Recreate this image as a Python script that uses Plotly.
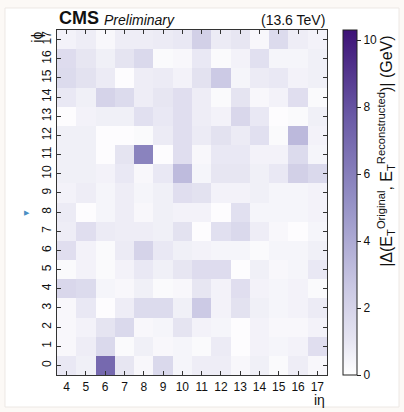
import plotly.graph_objects as go

# iη (columns) and iφ (rows)
ieta = list(range(4, 18))
iphi = list(range(0, 18))
xtick_labels = [str(v) for v in ieta]
ytick_labels = [str(v) for v in iphi]
cbar_ticks = [0, 2, 4, 6, 8, 10]

# |Δ(E_T)| values in GeV, one list per iφ row, ordered by iη = 4..17
row_phi0 = [0.9, 0.6, 7.0, 1.0, 0.3, 1.7, 0.4, 0.7, 0.7, 0.3, 0.6, 0.2, 0.7, 0.3]
row_phi1 = [0.3, 0.7, 1.7, 0.2, 0.6, 0.3, 0.4, 0.2, 0.8, 0.1, 0.5, 0.4, 0.5, 1.4]
row_phi2 = [0.3, 0.5, 1.1, 1.7, 0.3, 0.4, 1.1, 0.5, 0.4, 0.1, 0.5, 0.3, 0.3, 0.5]
row_phi3 = [0.3, 0.9, 0.1, 0.7, 1.6, 1.6, 0.6, 2.5, 0.5, 1.2, 0.6, 0.4, 0.5, 0.8]
row_phi4 = [1.8, 1.6, 0.4, 0.3, 0.6, 0.2, 0.3, 1.0, 0.5, 1.4, 0.5, 0.4, 0.5, 0.2]
row_phi5 = [0.2, 0.5, 0.2, 0.5, 0.9, 0.6, 1.0, 1.5, 1.5, 0.1, 0.6, 0.3, 0.4, 0.9]
row_phi6 = [1.4, 0.5, 0.2, 0.8, 2.0, 0.9, 0.6, 0.5, 0.4, 0.4, 0.2, 0.4, 0.4, 0.6]
row_phi7 = [0.7, 1.4, 0.8, 0.7, 0.7, 0.6, 1.2, 0.1, 1.3, 1.7, 0.7, 0.3, 0.1, 0.4]
row_phi8 = [0.8, 0.1, 0.4, 0.7, 0.3, 0.6, 0.5, 0.5, 0.1, 1.3, 0.4, 0.4, 0.4, 0.5]
row_phi9 = [0.5, 0.7, 0.4, 0.7, 0.4, 0.6, 1.4, 1.2, 0.5, 0.5, 0.6, 0.4, 0.4, 0.5]
row_phi10 = [0.6, 0.6, 0.5, 0.9, 0.3, 0.9, 3.2, 0.4, 1.0, 1.0, 0.6, 0.9, 2.2, 1.7]
row_phi11 = [0.6, 0.6, 0.1, 1.1, 5.8, 0.1, 1.4, 0.3, 0.9, 0.9, 0.5, 0.5, 1.6, 0.4]
row_phi12 = [0.6, 0.6, 0.1, 0.1, 0.2, 0.8, 1.4, 0.8, 1.2, 0.8, 1.3, 0.2, 3.3, 0.5]
row_phi13 = [0.1, 0.5, 0.6, 0.6, 1.3, 0.9, 1.4, 0.7, 0.5, 1.8, 0.9, 0.1, 0.2, 0.6]
row_phi14 = [0.9, 0.6, 2.0, 1.6, 0.7, 1.0, 1.4, 0.7, 0.2, 1.1, 0.3, 0.5, 1.4, 0.2]
row_phi15 = [1.6, 1.2, 0.8, 0.1, 0.7, 0.8, 0.5, 1.2, 2.5, 0.4, 0.8, 0.9, 0.5, 0.6]
row_phi16 = [1.5, 1.0, 0.6, 1.1, 1.7, 0.2, 0.3, 0.9, 0.2, 0.5, 1.3, 0.4, 0.4, 0.6]
row_phi17 = [0.5, 0.7, 0.3, 0.7, 0.7, 0.8, 0.9, 2.2, 0.8, 1.0, 0.3, 1.6, 0.7, 0.5]

z = [row_phi0, row_phi1, row_phi2, row_phi3, row_phi4, row_phi5, row_phi6,
     row_phi7, row_phi8, row_phi9, row_phi10, row_phi11, row_phi12, row_phi13,
     row_phi14, row_phi15, row_phi16, row_phi17]

z_min = 0.0
z_max = 10.3

colorscale = [
    [0.0, "#ffffff"],
    [0.1, "#e6e5f2"],
    [0.25, "#cbc9e4"],
    [0.5, "#9591c6"],
    [0.75, "#6a5aa6"],
    [1.0, "#3d1276"],
]

FONT = "Liberation Sans, Arial, Helvetica, sans-serif"
TXT = "#111111"

fig = go.Figure(
    go.Heatmap(
        x=ieta,
        y=iphi,
        z=z,
        zmin=z_min,
        zmax=z_max,
        colorscale=colorscale,
        showscale=True,
        colorbar=dict(
            x=1.059,
            xanchor="left",
            y=0,
            yanchor="bottom",
            len=1.0,
            lenmode="fraction",
            ypad=0,
            xpad=0,
            thickness=14,
            outlinewidth=1,
            outlinecolor="#222222",
            tickmode="array",
            tickvals=cbar_ticks,
            ticktext=[str(v) for v in cbar_ticks],
            ticks="outside",
            ticklen=4,
            tickcolor="#222222",
            tickfont=dict(family=FONT, size=12, color=TXT),
        ),
    )
)

axis_common = dict(
    showline=True,
    linecolor="#333333",
    linewidth=1.2,
    mirror="allticks",
    ticks="inside",
    ticklen=4,
    tickcolor="#333333",
    showgrid=False,
    zeroline=False,
    automargin=False,
    tickfont=dict(family=FONT, size=12, color=TXT),
)

fig.update_xaxes(
    range=[3.5, 17.5],
    tickmode="array",
    tickvals=ieta,
    ticktext=xtick_labels,
    **axis_common,
)
fig.update_yaxes(
    range=[-0.5, 17.5],
    tickmode="array",
    tickvals=iphi,
    ticktext=ytick_labels,
    tickangle=-90,
    **axis_common,
)

fig.update_layout(
    width=404,
    height=412,
    margin=dict(l=57, r=77, t=30, b=37),
    paper_bgcolor="#fcf9f6",
    plot_bgcolor="white",
    font=dict(family=FONT, color=TXT),
    shapes=[
        dict(type="rect", xref="paper", yref="paper", layer="below",
             x0=-0.1926, x1=1.2667, y0=-0.0928, y1=1.0638,
             fillcolor="white", line=dict(color="#ece8e4", width=1)),
    ],
    annotations=[
        dict(text="<b>CMS</b>", x=0, y=1.0, xref="paper", yref="paper",
             xanchor="left", yanchor="bottom", showarrow=False,
             font=dict(family=FONT, size=18, color=TXT)),
        dict(text="<i>Preliminary</i>", x=0.168, y=1.0, xref="paper", yref="paper",
             xanchor="left", yanchor="bottom", showarrow=False,
             font=dict(family=FONT, size=14, color=TXT)),
        dict(text="(13.6 TeV)", x=1, y=1.0, xref="paper", yref="paper",
             xanchor="right", yanchor="bottom", showarrow=False,
             font=dict(family=FONT, size=14, color=TXT)),
        dict(text="iη", x=1, y=-0.072, xref="paper", yref="paper",
             xanchor="right", yanchor="middle", showarrow=False,
             font=dict(family=FONT, size=14, color=TXT)),
        dict(text="iϕ", x=-0.04, y=1.0, xref="paper", yref="paper",
             xanchor="right", yanchor="top", textangle=-90, showarrow=False,
             font=dict(family=FONT, size=14, color=TXT)),
        dict(text="|Δ(E<sub>T</sub><sup>Original</sup>, E<sub>T</sub><sup>Reconstructed</sup>)| (GeV)",
             x=1.218, y=0.99, xref="paper", yref="paper",
             xanchor="center", yanchor="top", textangle=-90, showarrow=False,
             font=dict(family=FONT, size=16, color=TXT)),
        dict(text="▶", x=-0.11, y=0.47, xref="paper", yref="paper",
             xanchor="center", yanchor="middle", showarrow=False,
             font=dict(family=FONT, size=7, color="#4a8fc4")),
    ],
)

fig.write_html(
    "out.html",
    config={"displayModeBar": False},
    post_script="document.body.style.margin='0';document.body.style.overflow='hidden';",
)
